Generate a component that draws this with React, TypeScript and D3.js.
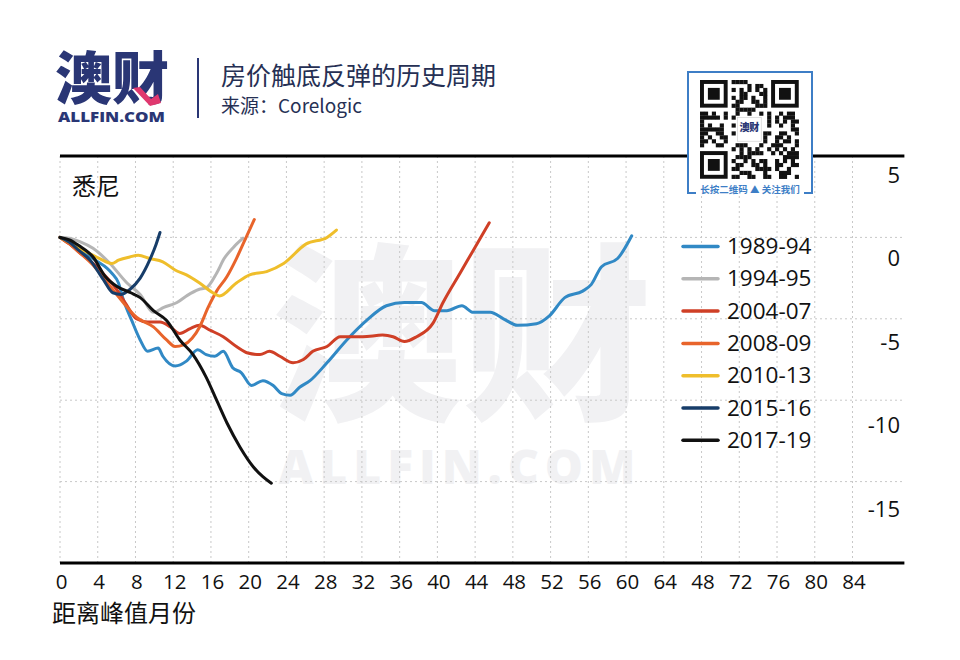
import React from "react";
import * as d3 from "d3";

type Pt = [number, number];

const seriesNames = ["1989-94", "1994-95", "2004-07", "2008-09", "2010-13", "2015-16", "2017-19"];
const seriesColors = ["#3189c5", "#b5b5b5", "#cf3f26", "#e8642b", "#efbe2b", "#173d69", "#111111"];

const s1989: Pt[] = [[0,0],[1,-0.3],[2,-0.7],[3,-1.1],[4,-1.5],[5,-1.9],[5.5,-2.2],[6.2,-2.8],[6.7,-3.8],[7.6,-5.1],[8.5,-6.3],[9.3,-7.0],[10.4,-6.8],[10.9,-7.3],[12.2,-7.9],[13.4,-7.6],[14.6,-6.9],[15.5,-7.2],[16.4,-7.3],[17.3,-7.0],[18.3,-8.0],[19.2,-8.3],[20.3,-9.1],[21.5,-8.8],[22.6,-9.1],[23.5,-9.6],[24.4,-9.7],[25.4,-9.2],[26.5,-8.8],[28.3,-7.7],[30.4,-6.3],[32.5,-5.1],[34.6,-4.2],[36.5,-4.0],[38.3,-4.0],[39.7,-4.5],[41.0,-4.5],[42.6,-4.2],[43.8,-4.6],[45.6,-4.6],[47.0,-5.0],[48.5,-5.4],[50.5,-5.3],[51.9,-4.8],[53.5,-3.7],[55.4,-3.3],[56.3,-2.9],[57.4,-1.8],[59.1,-1.3],[60.6,0.1]];
const s1994: Pt[] = [[0,0],[1,-0.05],[2.1,-0.26],[3.5,-0.67],[5.3,-1.6],[7.1,-2.8],[8.5,-3.5],[9.9,-4.6],[11.0,-4.3],[12.4,-4.0],[13.4,-3.6],[14.7,-3.2],[15.5,-3.1],[16.6,-2.2],[17.4,-1.3],[18.4,-0.6],[19.4,-0.05]];
const s2004: Pt[] = [[0,0],[1,-0.4],[2,-0.9],[3.5,-1.6],[5,-2.5],[6,-3.2],[7,-4.1],[8.1,-5.0],[9.3,-5.2],[10.6,-5.2],[11.7,-5.5],[12.7,-5.9],[13.8,-5.6],[14.8,-5.4],[15.9,-5.7],[17.3,-6.1],[18.7,-6.7],[19.9,-7.1],[21.2,-7.2],[22.2,-7.0],[23.3,-7.3],[24.7,-7.7],[25.8,-7.5],[26.8,-7.0],[28.3,-6.7],[29.7,-6.1],[32.1,-6.1],[34.2,-6.0],[35.3,-6.1],[36.5,-6.4],[37.8,-6.1],[39.5,-5.3],[40.6,-4.0],[42.4,-2.2],[43.8,-0.8],[45.5,0.9]];
const s2008: Pt[] = [[0,0],[1,-0.4],[2,-0.9],[3.5,-1.7],[5.3,-3.0],[6.7,-4.0],[8.1,-4.9],[9.9,-5.5],[11.3,-6.3],[12.2,-6.7],[13.1,-6.6],[14.0,-6.2],[14.8,-5.5],[15.7,-4.3],[16.6,-3.3],[17.7,-2.4],[18.7,-1.3],[19.8,0.1],[20.6,1.1]];
const s2010: Pt[] = [[0,0],[1,-0.3],[2.5,-0.8],[4.2,-1.3],[5.5,-1.6],[6.2,-1.4],[7.4,-1.2],[8.3,-1.1],[9.5,-1.3],[10.9,-1.5],[12.2,-2.0],[13.4,-2.3],[14.8,-2.8],[16.2,-3.4],[16.9,-3.6],[18.7,-2.8],[20.1,-2.3],[21.9,-2.1],[23.7,-1.6],[26.1,-0.4],[28.3,0.0],[29.3,0.45]];
const s2015: Pt[] = [[0,0],[1,-0.3],[2,-0.8],[3.2,-1.4],[4.6,-2.6],[5.6,-3.4],[6.5,-3.5],[7.4,-3.2],[8.5,-2.5],[9.5,-1.4],[10.2,-0.4],[10.6,0.3]];
const s2017: Pt[] = [[0,0],[1,-0.15],[2,-0.5],[3.5,-1.2],[4.8,-2.4],[6,-3.0],[7.5,-3.4],[8.5,-3.7],[9.9,-4.5],[11.3,-5.1],[12.7,-6.3],[14.1,-7.2],[15.5,-8.6],[16.6,-10.0],[17.7,-11.4],[19.1,-12.9],[20.5,-14.1],[21.5,-14.7],[22.4,-15.1]];
const seriesData: Pt[][] = [s1989, s1994, s2004, s2008, s2010, s2015, s2017];

const xTickValues = [0, 4, 8, 12, 16, 20, 24, 28, 32, 36, 40, 44, 48, 52, 56, 60, 64, 68, 72, 76, 80, 84];
const xTickLabels = ["0", "4", "8", "12", "16", "20", "24", "28", "32", "36", "40", "44", "48", "52", "56", "60", "64", "48", "72", "76", "80", "84"];
const yTickValues = [5, 0, -5, -10, -15];
const yGridValues = [0, -5, -10, -15];

const title = "房价触底反弹的历史周期";
const source = "来源：Corelogic";
const region = "悉尼";
const xTitle = "距离峰值月份";

const CJK = "'Noto Sans CJK SC', 'Noto Sans', sans-serif";
const NUM = "'Open Sans', 'Noto Sans', sans-serif";

function QRCode({ x, y }: { x: number; y: number }) {
  const n = 25;
  const m = 3.95;
  const ox = x + 12;
  const oy = y + 6;
  const cells: JSX.Element[] = [];
  const inFinder = (i: number, j: number) =>
    (i < 8 && j < 8) || (i < 8 && j >= n - 8) || (i >= n - 8 && j < 8);
  for (let i = 0; i < n; i++) {
    for (let j = 0; j < n; j++) {
      if (inFinder(i, j)) continue;
      if (i >= 9 && i <= 15 && j >= 9 && j <= 15) continue;
      const h = (i * 37 + j * 91 + i * j * 13 + ((i ^ j) * 7)) % 11;
      if (h < 5) cells.push(<rect key={`c${i}-${j}`} x={ox + j * m} y={oy + i * m} width={m + 0.2} height={m + 0.2} fill="#111" />);
    }
  }
  const finder = (fi: number, fj: number) => (
    <g key={`f${fi}-${fj}`}>
      <rect x={ox + fj * m} y={oy + fi * m} width={7 * m} height={7 * m} fill="#111" />
      <rect x={ox + (fj + 1) * m} y={oy + (fi + 1) * m} width={5 * m} height={5 * m} fill="#fff" />
      <rect x={ox + (fj + 2) * m} y={oy + (fi + 2) * m} width={3 * m} height={3 * m} fill="#111" />
    </g>
  );
  return (
    <g>
      <rect x={x} y={y - 2} width={124} height={123} fill="#fff" />
      <rect x={x} y={y - 2} width={124} height={121} fill="none" stroke="#3d7ec6" strokeWidth={2} />
      {cells}
      {finder(0, 0)}
      {finder(0, n - 7)}
      {finder(n - 7, 0)}
      <rect x={ox + 9.5 * m} y={oy + 9.5 * m} width={6 * m} height={6 * m} fill="#fff" stroke="#ccc" strokeWidth={0.6} />
      <text x={ox + 12.5 * m} y={oy + 12.9 * m} textAnchor="middle" fontFamily={CJK} fontWeight={900} fontSize={10} fill="#2a3675">澳财</text>
      <rect x={x + 8} y={y + 108} width={108} height={14} fill="#fff" />
      <text x={x + 62} y={y + 119} textAnchor="middle" fontFamily={CJK} fontWeight={700} fontSize={9.5} fill="#3d7ec6">长按二维码 ▲ 关注我们</text>
    </g>
  );
}

export default function App() {
  const W = 960, H = 660;
  const x = d3.scaleLinear().domain([0, 84]).range([60, 852.5]);
  const y = d3.scaleLinear().domain([5, -20]).range([156, 563]);
  const yLabel = d3.scaleLinear().domain([5, -15]).range([183, 516.5]);
  const xRight = x(89.5);
  const line = d3.line<Pt>().x(d => x(d[0])).y(d => y(d[1])).curve(d3.curveMonotoneX);

  return (
    <svg width={W} height={H} style={{ position: "absolute", left: 0, top: 0, background: "#fff" }}>
      <rect width={W} height={H} fill="#fff" />
      {/* watermark */}
      <text x={462} y={405} textAnchor="middle" fontFamily={CJK} fontWeight={900} fontSize={190} fill="#f1f1f3">澳财</text>
      <text x={460} y={484} textAnchor="middle" fontFamily={NUM} fontWeight={800} fontSize={48} letterSpacing={6} fill="#f1f1f3">ALLFIN.COM</text>

      {/* header */}
      <text x={55} y={99} fontFamily={CJK} fontWeight={900} fontSize={57} fill="#2a3675">澳财</text>
      <path d="M133,88 L140,87 L151,99 L158,94 L161,103 L150,106 Z" fill="#e0386f" />
      <text x={58} y={122} fontFamily={NUM} fontWeight={800} fontSize={14} fill="#2a3675" textLength={107} lengthAdjust="spacingAndGlyphs">ALLFIN.COM</text>
      <line x1={198} x2={198} y1={58} y2={118} stroke="#2a3675" strokeWidth={2} />
      <text x={221} y={85} fontFamily={CJK} fontSize={25} fill="#263054">{title}</text>
      <text x={221} y={113} fontFamily={CJK} fontSize={19} fill="#263054">{source}</text>

      {/* grid */}
      {xTickValues.map(v => (
        <line key={`vx${v}`} x1={x(v)} x2={x(v)} y1={156} y2={563} stroke="#c8c8c8" strokeWidth={1} strokeDasharray="2,3" />
      ))}
      {yGridValues.map(v => (
        <line key={`gy${v}`} x1={60} x2={xRight} y1={y(v)} y2={y(v)} stroke="#c8c8c8" strokeWidth={1} strokeDasharray="2,3" />
      ))}
      <line x1={60} x2={xRight} y1={y(5)} y2={y(5)} stroke="#000" strokeWidth={3} />
      <line x1={60} x2={xRight} y1={y(-20)} y2={y(-20)} stroke="#000" strokeWidth={3} />

      {/* series */}
      {seriesData.map((d, i) => (
        <path key={seriesNames[i]} d={line(d) || ""} fill="none" stroke={seriesColors[i]} strokeWidth={3} strokeLinejoin="round" strokeLinecap="round" />
      ))}

      {/* axes labels */}
      {xTickValues.map((v, i) => (
        <text key={`xl${v}`} x={x(v) + 1.5} y={589} textAnchor="middle" fontFamily={NUM} fontSize={20.5} fill="#111">{xTickLabels[i]}</text>
      ))}
      {yTickValues.map(v => (
        <text key={`yl${v}`} x={900} y={yLabel(v)} textAnchor="end" fontFamily={NUM} fontSize={22} fill="#111">{v}</text>
      ))}
      <text x={52} y={622} fontFamily={CJK} fontSize={24} fill="#111">{xTitle}</text>
      <text x={72} y={195} fontFamily={CJK} fontSize={24} fill="#111">{region}</text>

      {/* legend */}
      {seriesNames.map((name, i) => {
        const ly = 246.5 + i * 32.3;
        return (
          <g key={`lg${name}`}>
            <line x1={683} x2={718} y1={ly} y2={ly} stroke={seriesColors[i]} strokeWidth={3.5} strokeLinecap="round" />
            <text x={727} y={ly + 7.5} fontFamily={NUM} fontSize={22.5} fill="#111">{name}</text>
          </g>
        );
      })}

      <QRCode x={688} y={74} />
    </svg>
  );
}
